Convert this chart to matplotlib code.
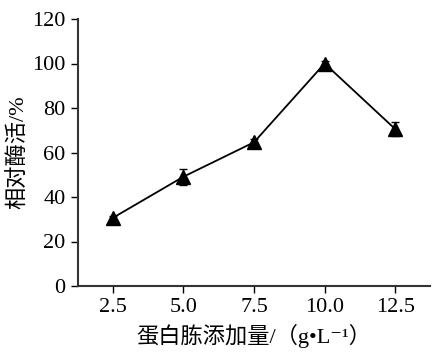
import matplotlib
matplotlib.use('Agg')
import matplotlib.pyplot as plt
import matplotlib.ticker as ticker

# 蛋白胨添加量 vs 相对酶活
peptone = [2.5, 5.0, 7.5, 10.0, 12.5]
activity = [30.6, 49.1, 64.6, 100.0, 70.5]
err = [1.0, 3.5, 1.5, 1.0, 3.0]
xticks = ['2.5', '5.0', '7.5', '10.0', '12.5']

fonts = ['Liberation Serif', 'Noto Sans CJK SC', 'DejaVu Sans']
plt.rcParams['font.family'] = fonts

fig = plt.figure(figsize=(4.33, 3.57), dpi=100)
ax = fig.add_axes([78 / 433, 1 - 286 / 357, (430 - 78) / 433, (286 - 19) / 357])

ax.errorbar(peptone, activity, yerr=err, color='black', linewidth=1.3,
            marker='^', markersize=10, capsize=3, elinewidth=1.0, capthick=1.0)

ax.set_xlim(1.27, 13.73)
ax.set_ylim(0, 120)
ax.set_xticks(peptone)
ax.set_xticklabels(xticks)
ax.yaxis.set_major_locator(ticker.MultipleLocator(20))
ax.tick_params(direction='out', length=5, width=1.0, labelsize=16, pad=4)

for s in ['top', 'right']:
    ax.spines[s].set_visible(False)
for s in ['left', 'bottom']:
    ax.spines[s].set_linewidth(1.5)
    ax.spines[s].set_color('#333333')

ax.set_xlabel('蛋白胨添加量/（g•L⁻¹）', fontsize=16, labelpad=5)
ax.set_ylabel('相对酶活/%', fontsize=16, labelpad=2)

fig.savefig('out.png', dpi=100)
